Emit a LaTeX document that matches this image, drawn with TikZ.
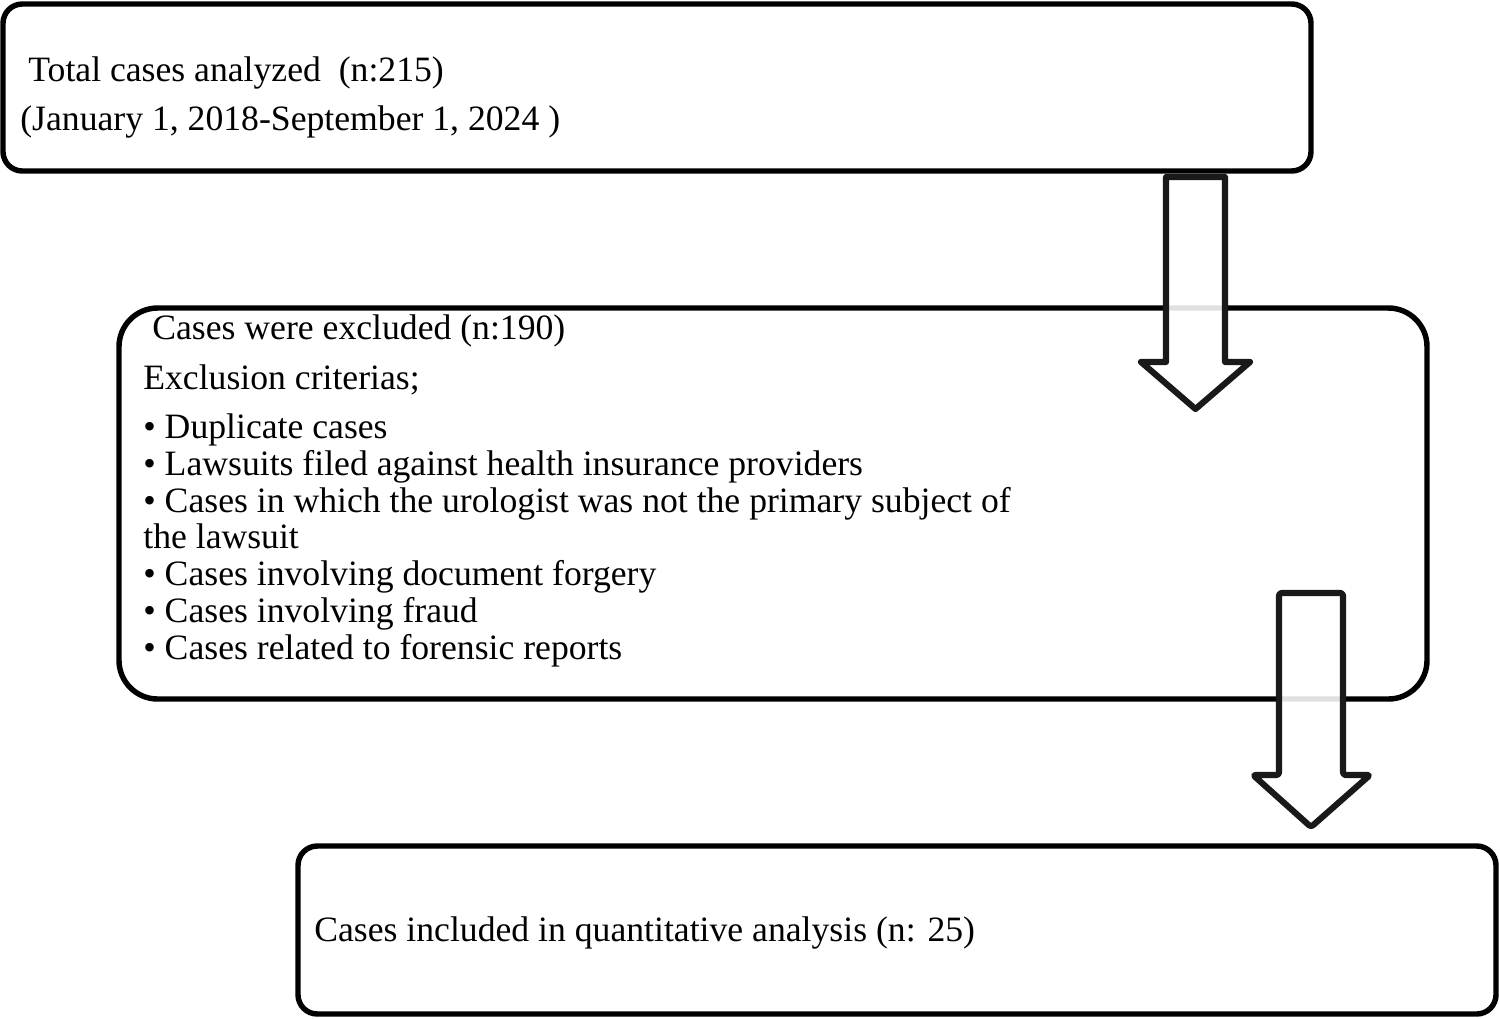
\documentclass[tikz,border=0pt]{standalone}
\usepackage{fontspec}
\setmainfont{Liberation Serif}
\begin{document}
\begin{tikzpicture}[x=0.02cm,y=-0.02cm,
  box/.style={draw=black,line width=3.1pt,fill=white},
  blockarrow/.style={draw=black!90,line width=3.5pt,fill=white,fill opacity=0.88,line join=round},
  txt/.style={anchor=base west,inner sep=0pt,font=\fontsize{20.3}{20.9}\selectfont,align=left}]
\useasboundingbox (0,0) rectangle (1500,1018);
% boxes
\draw[box,rounded corners=11pt] (3,4) rectangle (1311,171);
\draw[box,rounded corners=22pt] (119,308) rectangle (1427,699);
\draw[box,rounded corners=11pt] (298,846) rectangle (1496,1014);
% block arrows
\draw[blockarrow] (1166,177) -- (1225,177) -- (1225,362) -- (1250,362) -- (1195.5,409) -- (1141,362) -- (1166,362) -- cycle;
\draw[blockarrow,rounded corners=1.5pt] (1279,593) -- (1343,593) -- (1343,775) -- (1370,775) -- (1311,827) -- (1253,775) -- (1279,775) -- cycle;
% texts
\node[txt] (t1) at (28,81) {Total cases analyzed\ \ (n:215)};
\node[txt] (t2) at (20,130) {(January 1, 2018-September 1, 2024 )};
\node[txt] (t3) at (152,339) {Cases were excluded (n:190)};
\node[txt] (t4) at (143,389) {Exclusion criterias;};
\node[txt] (t5) at (143,659) {• Duplicate cases\\
• Lawsuits filed against health insurance providers\\
• Cases in which the urologist was not the primary subject of\\
the lawsuit\\
• Cases involving document forgery\\
• Cases involving fraud\\
• Cases related to forensic reports};
\node[txt] (t6) at (314,941) {Cases included in quantitative analysis (n: 25)};
\end{tikzpicture}
\end{document}
